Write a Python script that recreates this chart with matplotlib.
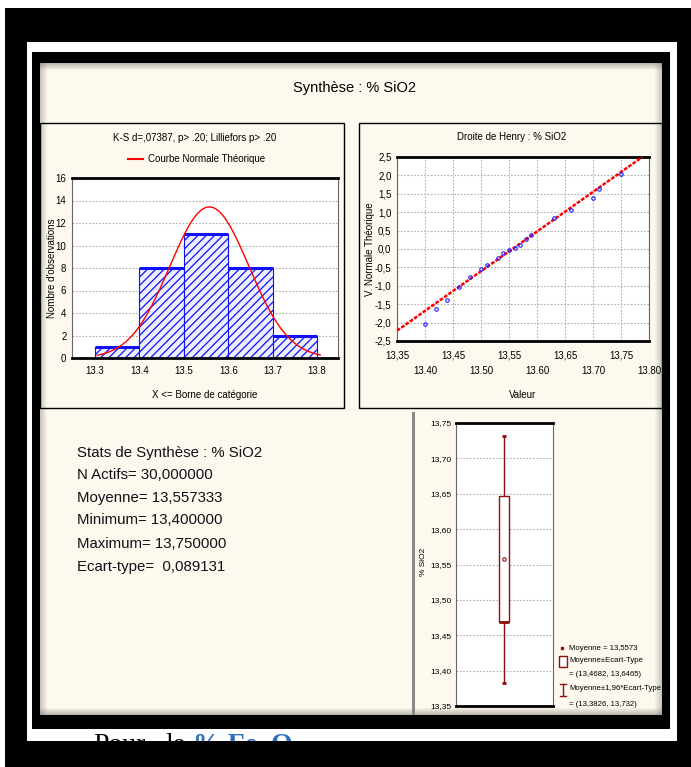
import numpy as np
import matplotlib.pyplot as plt
from matplotlib.patches import Rectangle

plt.rcParams['font.family'] = ['Liberation Sans', 'DejaVu Sans']
plt.rcParams['hatch.linewidth'] = 0.9

# Histogramme (X <= borne de catégorie)
bornes = [13.3, 13.4, 13.5, 13.6, 13.7, 13.8]
effectifs = [1, 8, 11, 8, 2]

# Statistiques de synthèse
n_actifs = 30
moyenne = 13.557333
minimum = 13.40
maximum = 13.75
ecart_type = 0.089131

# Droite de Henry : valeurs observées et valeurs normales théoriques
henry_x = [13.40, 13.42, 13.44, 13.46, 13.48, 13.50, 13.51, 13.53, 13.54, 13.55,
           13.56, 13.57, 13.58, 13.59, 13.63, 13.66, 13.70, 13.71, 13.75]
henry_z = [-2.05, -1.63, -1.39, -1.02, -0.75, -0.55, -0.43, -0.25, -0.10, -0.03,
           0.02, 0.11, 0.27, 0.38, 0.83, 1.06, 1.38, 1.63, 2.03]
droite_x = [13.35, 13.788]
droite_z = [-2.22, 2.5]

# Boîte à moustaches
box_moy = 13.5573
box_et = [13.4682, 13.6465]
box_196 = [13.3826, 13.732]

W, H = 691, 767
fig = plt.figure(figsize=(W / 100, H / 100), dpi=100, facecolor='black')

bg = fig.add_axes([0, 0, 1, 1])
bg.set_xlim(0, W)
bg.set_ylim(H, 0)
bg.axis('off')
bg.set_facecolor('black')


def rect(x0, y0, x1, y1, color, z=1, alpha=1.0, lw=0, ec=None):
    bg.add_patch(Rectangle((x0, y0), x1 - x0, y1 - y0, facecolor=color, edgecolor=ec,
                           linewidth=lw, alpha=alpha, zorder=z))


def px_axes(x0, y0, x1, y1):
    return fig.add_axes([x0 / W, 1 - y1 / H, (x1 - x0) / W, (y1 - y0) / H])


# cadre de la page
rect(0, 0, W, 8, 'white')
rect(0, 0, 5, H, 'white')
rect(27, 42, 677, 741, 'white')
rect(32, 52, 670, 729, 'black', z=2)
creme = '#fdf9ee'
rect(40, 63, 662, 715, creme, z=2)

# ombre intérieure du panneau
for i in range(7):
    a = 0.45 * (1 - i / 7)
    rect(40, 63 + i, 662, 64 + i, '#6e6a62', z=3, alpha=a)
    rect(40, 714 - i, 662, 715 - i, '#6e6a62', z=3, alpha=a)
    rect(40 + i, 63, 41 + i, 715, '#6e6a62', z=3, alpha=a * 0.8)
    rect(661 - i, 63, 662 - i, 715, '#6e6a62', z=3, alpha=a * 0.8)

# texte du document sous la capture
bg.text(93, 752, 'Pour', family='Liberation Serif', fontsize=20, color='black', zorder=3)
bg.text(165, 752, 'le', family='Liberation Serif', fontsize=20, color='black', zorder=3)
bg.text(193, 752, '% Fe', family='Liberation Serif', fontsize=20, weight='bold',
        color='#2f6fc0', zorder=3)
bg.text(271, 752, 'O', family='Liberation Serif', fontsize=20, weight='bold',
        color='#2f6fc0', zorder=3)
rect(5, 741, W, H, 'black', z=4)

# cadres des graphiques
rect(40, 123, 344, 408, 'none', z=4, lw=1, ec='black')
rect(359, 123, 662, 408, 'none', z=4, lw=1, ec='black')
rect(412, 412, 415, 715, '#8a8a8a', z=4)

bg.text(355, 88, 'Synthèse : % SiO2', ha='center', va='center', fontsize=10.5, zorder=5)

# --- Histogramme ---
bg.text(195, 138, 'K-S d=,07387, p> .20; Lilliefors p> .20', ha='center', va='center',
        fontsize=7, zorder=5)
bg.plot([128, 143], [159, 159], color='red', lw=1.5, zorder=5)
bg.text(148, 159, 'Courbe Normale Théorique', ha='left', va='center', fontsize=7, zorder=5)
bg.text(52, 268, "Nombre d'observations", rotation=90, ha='center', va='center',
        fontsize=7, zorder=5)
bg.text(205, 395, 'X <= Borne de catégorie', ha='center', va='center', fontsize=7, zorder=5)


def style_axes(ax, vgrid=False, size=7):
    ax.set_facecolor('white')
    for s in ['top', 'bottom']:
        ax.spines[s].set_linewidth(2)
        ax.spines[s].set_color('black')
    for s in ['left', 'right']:
        ax.spines[s].set_linewidth(0.8)
        ax.spines[s].set_color('#666666')
    ax.tick_params(length=0, labelsize=size, pad=4)
    ax.grid(axis='both' if vgrid else 'y', color='#b0b0b0', linestyle=(0, (1.5, 1.5)),
            linewidth=0.8)
    ax.set_axisbelow(True)


ax1 = px_axes(72, 178, 338, 358)
style_axes(ax1)
ax1.bar(bornes[:-1], effectifs, width=0.1, align='edge', facecolor='#eef0ff',
        edgecolor='#1010ff', hatch='////', linewidth=0.8, zorder=2)
ax1.hlines(effectifs, bornes[:-1], bornes[1:], color='#1010ff', lw=2.2, zorder=3)
xc = np.linspace(13.305, 13.807, 200)
yc = n_actifs * 0.1 * np.exp(-0.5 * ((xc - moyenne) / ecart_type) ** 2) / (ecart_type * np.sqrt(2 * np.pi))
ax1.plot(xc, yc, color='red', lw=1, zorder=4)
ax1.set_xlim(13.248, 13.847)
ax1.set_ylim(0, 16)
ax1.set_yticks(range(0, 17, 2))
ax1.set_xticks(bornes)
ax1.set_xticklabels([f'{b:.1f}' for b in bornes])
ax1.tick_params(axis='x', pad=6)

# --- Droite de Henry ---
bg.text(512, 137, 'Droite de Henry : % SiO2', ha='center', va='center', fontsize=7, zorder=5)
bg.text(370, 249, 'V. Normale Théorique', rotation=90, ha='center', va='center',
        fontsize=7, zorder=5)
bg.text(523, 395, 'Valeur', ha='center', va='center', fontsize=7, zorder=5)

ax2 = px_axes(397, 157, 649, 341)
style_axes(ax2, vgrid=True)
ax2.plot(droite_x, droite_z, color='red', lw=1.8, linestyle=(0, (1.5, 0.6)), zorder=3)
ax2.plot(henry_x, henry_z, linestyle='none', marker='o', ms=2.5, mfc='none',
         mec='#2020ff', mew=0.8, zorder=4)
ax2.set_xlim(13.35, 13.80)
ax2.set_ylim(-2.5, 2.5)
xt = [13.35 + 0.05 * i for i in range(10)]
ax2.set_xticks(xt)
ax2.set_xticklabels([f'{v:.2f}'.replace('.', ',') if i % 2 == 0 else f'\n{v:.2f}'
                     for i, v in enumerate(xt)], linespacing=1.7)
ax2.tick_params(axis='x', pad=7)
yt = [-2.5 + 0.5 * i for i in range(11)]
ax2.set_yticks(yt)
ax2.set_yticklabels([f'{v:.1f}'.replace('.', ',').replace('-0,0', '0,0') for v in yt])

# --- Statistiques ---
stats = ['Stats de Synthèse : % SiO2',
         f'N Actifs= {n_actifs:.6f}'.replace('.', ','),
         f'Moyenne= {moyenne:.6f}'.replace('.', ','),
         f'Minimum= {minimum:.6f}'.replace('.', ','),
         f'Maximum= {maximum:.6f}'.replace('.', ','),
         f'Ecart-type=  {ecart_type:.6f}'.replace('.', ',')]
ys = [453, 475, 498, 520, 544, 567]
for s, y in zip(stats, ys):
    bg.text(77, y, s, ha='left', va='center', fontsize=10.8, color='#111118', zorder=5)

# --- Boîte à moustaches ---
rouge = '#8b1010'
bg.text(424, 562, '% SiO2', rotation=90, ha='center', va='center', fontsize=6, zorder=5)
ax3 = px_axes(456, 423, 553, 706)
style_axes(ax3, size=6)
ax3.set_xlim(0, 1)
ax3.set_ylim(13.35, 13.75)
ax3.set_xticks([])
yb = [13.35 + 0.05 * i for i in range(9)]
ax3.set_yticks(yb)
ax3.set_yticklabels([f'{v:.2f}'.replace('.', ',') for v in yb])
ax3.tick_params(axis='y', pad=3)
ax3.add_patch(Rectangle((0.445, box_et[0]), 0.1, box_et[1] - box_et[0], facecolor='white',
                        edgecolor=rouge, lw=1, zorder=3))
ax3.hlines(box_et[0], 0.445, 0.545, color=rouge, lw=2, zorder=4)
ax3.vlines(0.495, box_196[0], box_et[0], color=rouge, lw=1, zorder=3)
ax3.vlines(0.495, box_et[1], box_196[1], color=rouge, lw=1, zorder=3)
ax3.hlines(box_196, 0.47, 0.52, color=rouge, lw=2, zorder=4)
ax3.plot([0.495], [box_moy], marker='o', ms=2.5, mfc='none', mec=rouge, mew=0.8, zorder=5)

# légende de la boîte
lg = 5.6
bg.plot([562], [648], marker='s', ms=2, color=rouge, zorder=5)
bg.text(569, 648, f'Moyenne = {box_moy:.4f}'.replace('.', ','), va='center', fontsize=lg, zorder=5)
rect(559, 656, 567, 667, 'white', z=5, lw=1, ec=rouge)
bg.text(569, 661, 'Moyenne±Ecart-Type', va='center', fontsize=lg, zorder=5)
bg.text(569, 675, f'= ({box_et[0]:.4f}, {box_et[1]:.4f})'.replace('.', ','), va='center',
        fontsize=lg, zorder=5)
bg.plot([563, 563], [684, 696], color=rouge, lw=1, zorder=5)
bg.plot([560, 566], [684, 684], color=rouge, lw=1, zorder=5)
bg.plot([560, 566], [696, 696], color=rouge, lw=1, zorder=5)
bg.text(569, 689, 'Moyenne±1,96*Ecart-Type', va='center', fontsize=lg, zorder=5)
bg.text(569, 704, f'= ({box_196[0]:.4f}, {box_196[1]:.3f})'.replace('.', ','), va='center',
        fontsize=lg, zorder=5)

fig.savefig('out.png', dpi=100, facecolor='black')
